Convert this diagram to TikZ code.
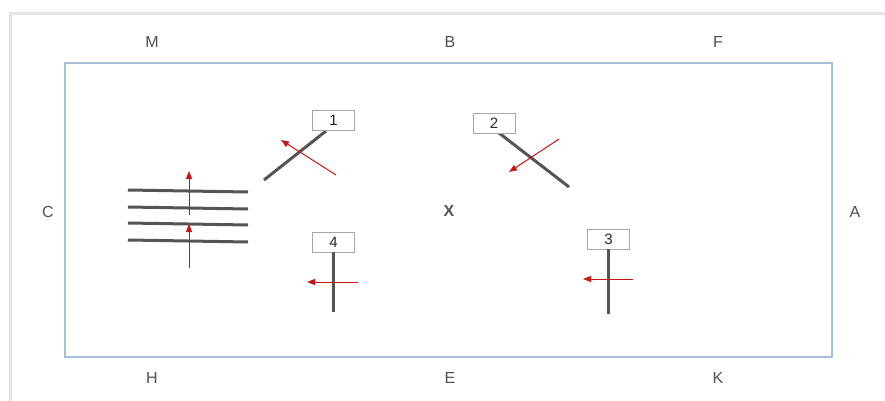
\documentclass[tikz,border=0pt]{standalone}
\usepackage{fontspec}
\setmainfont{Liberation Sans}
\usetikzlibrary{arrows.meta}
\definecolor{fieldblue}{RGB}{165,190,220}
\definecolor{postgray}{RGB}{85,85,85}
\definecolor{lblgray}{RGB}{80,80,80}
\definecolor{redarr}{RGB}{200,20,20}
\tikzset{
  letter/.style={font=\fontsize{16}{16}\selectfont, text=lblgray, inner sep=0pt},
  signbox/.style={draw=gray!70, fill=white, line width=0.9pt, minimum width=42pt, minimum height=20pt, inner sep=0pt, font=\fontsize{15}{15}\selectfont, text=black!85},
  post/.style={draw=postgray, line width=3pt},
  pole/.style={draw=postgray, line width=3pt},
  redarrow/.style={draw=redarr, line width=1pt, -{Triangle[length=8pt,width=6pt]}},
}
\begin{document}
\begin{tikzpicture}[x=1pt,y=-1pt]
\useasboundingbox (0,0) rectangle (885,401);
% outer shadow frame
\draw[gray!20, line width=3pt] (885,14) -- (10,14) -- (10,401);
% arena
\node[draw=fieldblue, line width=1.2pt, minimum width=767pt, minimum height=294pt, inner sep=0pt] (arena) at (448.5,210) {};
% letters
\node[letter] (M) at (152,42) {M};
\node[letter] (B) at (450,42) {B};
\node[letter] (F) at (718,42) {F};
\node[letter] (C) at (48,212) {C};
\node[letter] (A) at (855,212) {A};
\node[letter] (H) at (152,378) {H};
\node[letter] (E) at (450,378) {E};
\node[letter] (K) at (718,378) {K};
\node[font=\fontsize{16}{16}\selectfont\bfseries, text=postgray, inner sep=0pt] (X) at (449,211) {X};
% parallel poles
\coordinate (p1a) at (128,190); \coordinate (p1b) at (248,192);
\coordinate (p2a) at (128,207); \coordinate (p2b) at (248,209);
\coordinate (p3a) at (128,223); \coordinate (p3b) at (248,225);
\coordinate (p4a) at (128,240); \coordinate (p4b) at (248,242);
\draw[pole] (p1a) -- (p1b);
\draw[pole] (p2a) -- (p2b);
\draw[pole] (p3a) -- (p3b);
\draw[pole] (p4a) -- (p4b);
\coordinate (r1s) at (189,215); \coordinate (r1e) at (189,171);
\coordinate (r2s) at (189,268); \coordinate (r2e) at (189,224);
\draw[redarrow] (r1s) -- (r1e);
\draw[redarrow] (r2s) -- (r2e);
% sign 1
\coordinate (s1b) at (264,180);
\draw[post] (326,131) -- (s1b);
\node[signbox] (s1) at (333.5,120) {1};
\coordinate (a1s) at (336,175); \coordinate (a1e) at (281,140);
\draw[redarrow] (a1s) -- (a1e);
% sign 2
\coordinate (s2b) at (569,187);
\draw[post] (499,133) -- (s2b);
\node[signbox] (s2) at (494,123.5) {2};
\coordinate (a2s) at (559,139); \coordinate (a2e) at (509,172);
\draw[redarrow] (a2s) -- (a2e);
% sign 4
\node[signbox] (s4) at (333.5,242) {4};
\coordinate (s4b) at (333.5,312);
\draw[post] (s4.south) -- (s4b);
\coordinate (a4s) at (358,282); \coordinate (a4e) at (307,282);
\draw[redarrow] (a4s) -- (a4e);
% sign 3
\node[signbox] (s3) at (608.5,239) {3};
\coordinate (s3b) at (608.5,314);
\draw[post] (s3.south) -- (s3b);
\coordinate (a3s) at (633,279); \coordinate (a3e) at (583,279);
\draw[redarrow] (a3s) -- (a3e);
\end{tikzpicture}
\end{document}
